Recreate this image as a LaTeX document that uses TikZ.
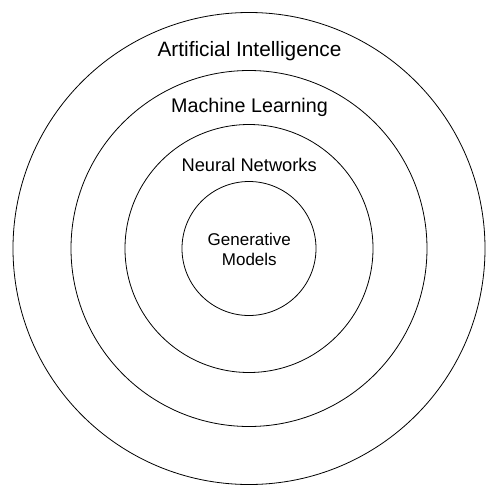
\documentclass[tikz,border=0pt]{standalone}
\usepackage{fontspec}
\setmainfont{Liberation Sans}
\begin{document}
\begin{tikzpicture}[x=1pt,y=-1pt,
  ring/.style={circle,draw=black,line width=0.8pt,inner sep=0pt,minimum size=#1},
  lbl/.style={anchor=base,inner sep=0pt,text=black}]
\useasboundingbox[fill=white] (0,0) rectangle (499,499);
\coordinate (c) at (249,248.5);
\node[ring=472pt] (ai) at (c) {};
\node[ring=356pt] (ml) at (c) {};
\node[ring=248pt] (nn) at (c) {};
\node[ring=134pt] (gm) at (c) {};
\node[lbl,font=\fontsize{20.8}{24}\selectfont] (tai) at (249.5,56) {Artificial Intelligence};
\node[lbl,font=\fontsize{19.7}{24}\selectfont] (tml) at (249.5,112.3) {Machine Learning};
\node[lbl,font=\fontsize{18.3}{22}\selectfont] (tnn) at (249.2,171.7) {Neural Networks};
\node[lbl,font=\fontsize{17}{20}\selectfont] (tg1) at (249.3,245) {Generative};
\node[lbl,font=\fontsize{17}{20}\selectfont] (tg2) at (249.3,265) {Models};
\end{tikzpicture}
\end{document}
